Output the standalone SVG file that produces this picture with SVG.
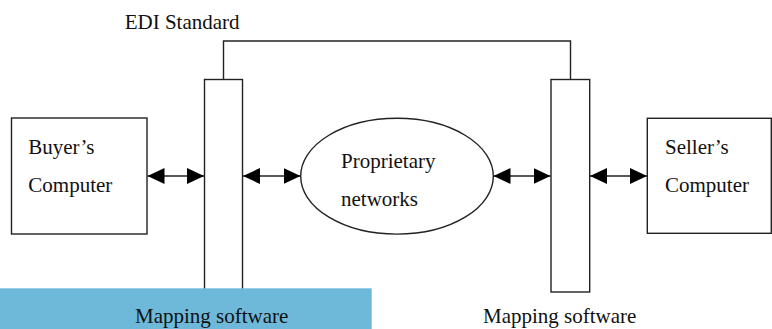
<svg xmlns="http://www.w3.org/2000/svg" width="772" height="329" viewBox="0 0 772 329">
  <defs>
    <style>
      .box { fill: #fff; stroke: #222; stroke-width: 1.4; }
      .line { fill: none; stroke: #222; stroke-width: 1.4; }
      text { font-family: "Liberation Serif", "DejaVu Serif", serif; font-size: 21px; fill: #111; }
    </style>
    <marker id="head" viewBox="0 0 17 16" refX="17" refY="8" markerWidth="17" markerHeight="16" markerUnits="userSpaceOnUse" orient="auto-start-reverse">
      <path d="M0,0 L17,8 L0,16 Z" fill="#000"/>
    </marker>
  </defs>
  <rect width="772" height="329" fill="#fff"/>

  <!-- EDI standard link between the two mapping layers -->
  <g id="edi-standard">
    <path class="line" d="M223.5,79.5 V41 H570.5 V79.5"/>
    <text x="124.7" y="29.3" font-family="Liberation Serif, serif">EDI Standard</text>
  </g>

  <g id="buyer">
    <rect class="box" x="11.5" y="118" width="135.5" height="116"/>
    <text x="28.3" y="153.5" font-family="Liberation Serif, serif">Buyer’s</text>
    <text x="28.3" y="191.7" font-family="Liberation Serif, serif">Computer</text>
  </g>

  <g id="mapping-left">
    <rect class="box" x="204.5" y="79.5" width="38" height="212.5"/>
  </g>

  <g id="network">
    <ellipse class="box" cx="397" cy="176.2" rx="96.3" ry="57.9"/>
    <text x="341" y="168.3" font-family="Liberation Serif, serif">Proprietary</text>
    <text x="341" y="206" font-family="Liberation Serif, serif">networks</text>
  </g>

  <g id="mapping-right">
    <rect class="box" x="551" y="79.5" width="38.7" height="212.5"/>
  </g>

  <g id="seller">
    <rect class="box" x="647.3" y="118.3" width="124" height="115"/>
    <text x="665" y="153.5" font-family="Liberation Serif, serif">Seller’s</text>
    <text x="665" y="191.7" font-family="Liberation Serif, serif">Computer</text>
  </g>

  <!-- two-way data flows -->
  <g id="connectors">
    <line class="line" x1="147.5" y1="176" x2="204" y2="176" marker-start="url(#head)" marker-end="url(#head)"/>
    <line class="line" x1="243" y1="176" x2="300.5" y2="176" marker-start="url(#head)" marker-end="url(#head)"/>
    <line class="line" x1="493.5" y1="176" x2="550.5" y2="176" marker-start="url(#head)" marker-end="url(#head)"/>
    <line class="line" x1="590" y1="176" x2="647" y2="176" marker-start="url(#head)" marker-end="url(#head)"/>
  </g>

  <!-- shaded caption band -->
  <rect x="0" y="288.3" width="371.7" height="41" fill="#6eb9d9"/>

  <g id="captions">
    <text x="135" y="323" font-family="Liberation Serif, serif">Mapping software</text>
    <text x="483" y="323" font-family="Liberation Serif, serif">Mapping software</text>
  </g>
</svg>
